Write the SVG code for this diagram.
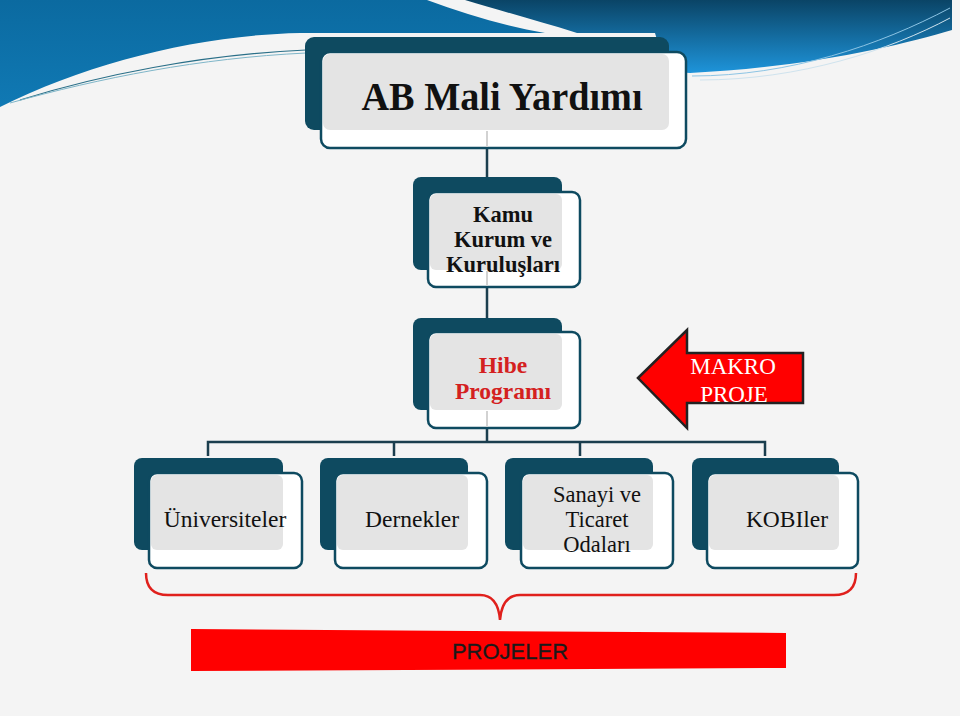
<svg xmlns="http://www.w3.org/2000/svg" width="960" height="716" viewBox="0 0 960 716">
<defs>
<linearGradient id="gl" x1="0" y1="0" x2="0" y2="1">
<stop offset="0" stop-color="#0b6aa0"/><stop offset="1" stop-color="#1079b4"/>
</linearGradient>
<linearGradient id="gr" x1="0" y1="0" x2="0" y2="1">
<stop offset="0" stop-color="#0a4466"/><stop offset="1" stop-color="#1e94da"/>
</linearGradient>
<style>
.back{fill:#0e4a60}
.front{fill:#ffffff;stroke:#0e4a60;stroke-width:2.5}
.gray{fill:#e4e4e4}
.conn{fill:none;stroke:#1b3e4e;stroke-width:2.5}
.faint{fill:none;stroke:#d2d2d2;stroke-width:2}
.tb{font-family:"Liberation Serif",serif;font-weight:bold;text-anchor:middle}
.tr{font-family:"Liberation Serif",serif;text-anchor:middle;fill:#111}
</style>
</defs>
<rect width="960" height="716" fill="#f4f4f4"/>
<!-- banner -->
<path d="M0,0 H427 C465,14 505,26 545,33 L300,33 C200,35 90,62 0,107 Z" fill="url(#gl)"/>
<path d="M465,0 H952 V30 C900,46 800,68 690,73 C672,73 662,58 655,33 L577,33 C535,20 498,10 465,0 Z" fill="url(#gr)"/>
<path d="M20,100 C100,75 200,55 306,50" fill="none" stroke="#2a6f88" stroke-width="1.2"/>
<path d="M10,103 C100,78 200,58 306,53" fill="none" stroke="#7fb6c9" stroke-width="1"/>
<path d="M692,76 C790,76 880,45 950,8" fill="none" stroke="#8cc4e4" stroke-width="1"/>
<path d="M700,80 C800,80 890,50 950,18" fill="none" stroke="#cfe3ee" stroke-width="1"/>
<g id="connectors">
<line class="conn" x1="487" y1="148" x2="487" y2="192"/>
<line class="conn" x1="487" y1="287" x2="487" y2="332"/>
<polyline class="conn" points="487,428 487,442"/>
<polyline class="conn" points="208,456 208,442 765,442 765,456"/>
<line class="conn" x1="394" y1="442" x2="394" y2="456"/>
<line class="conn" x1="580" y1="442" x2="580" y2="456"/>
</g>
<g id="n-ab">
<rect class="back" x="305" y="37" width="364" height="93" rx="9"/>
<rect class="front" x="321" y="52" width="365" height="96" rx="9"/>
<rect class="gray" x="323" y="54" width="346" height="76" rx="7"/>
<line class="faint" x1="487" y1="131" x2="487" y2="147"/>
<text class="tb" x="502" y="110" font-size="40" textLength="281" lengthAdjust="spacingAndGlyphs" fill="#111">AB Mali Yardımı</text>
</g>
<g id="n-kamu">
<rect class="back" x="413" y="177" width="149" height="93" rx="8"/>
<rect class="front" x="428" y="192" width="152" height="95" rx="8"/>
<rect class="gray" x="430" y="194" width="132" height="76" rx="6"/>
<line class="faint" x1="487" y1="271" x2="487" y2="286"/>
<text class="tb" font-size="22.5" fill="#111"><tspan x="503" y="222">Kamu</tspan><tspan x="503" y="247">Kurum ve</tspan><tspan x="503" y="272">Kuruluşları</tspan></text>
</g>
<g id="n-hibe">
<rect class="back" x="413" y="318" width="149" height="92" rx="8"/>
<rect class="front" x="428" y="332" width="152" height="96" rx="8"/>
<rect class="gray" x="430" y="334" width="132" height="76" rx="6"/>
<line class="faint" x1="487" y1="411" x2="487" y2="427"/>
<text class="tb" font-size="23.5" fill="#d42020"><tspan x="503" y="373">Hibe</tspan><tspan x="503" y="399">Programı</tspan></text>
</g>
<g id="n-makro">
<polygon points="638,378 687,330 687,353 803,353 803,403 687,403 687,428" fill="#ff0000" stroke="#222" stroke-width="2.5" stroke-linejoin="miter"/>
<text font-family="'Liberation Serif',serif" font-size="23" fill="#ffffff" text-anchor="middle"><tspan x="733" y="374">MAKRO</tspan><tspan x="734" y="402">PROJE</tspan></text>
</g>
<g id="n-uni">
<rect class="back" x="134" y="458" width="149" height="92" rx="8"/>
<rect class="front" x="149" y="473" width="153" height="95" rx="8"/>
<rect class="gray" x="151" y="475" width="132" height="75" rx="6"/>
<text class="tr" x="225" y="527" font-size="23.5">Üniversiteler</text>
</g>
<g id="n-der">
<rect class="back" x="320" y="458" width="148" height="92" rx="8"/>
<rect class="front" x="335" y="473" width="152" height="95" rx="8"/>
<rect class="gray" x="337" y="475" width="131" height="75" rx="6"/>
<text class="tr" x="412" y="527" font-size="23.5">Dernekler</text>
</g>
<g id="n-san">
<rect class="back" x="505" y="458" width="148" height="92" rx="8"/>
<rect class="front" x="521" y="473" width="152" height="95" rx="8"/>
<rect class="gray" x="523" y="475" width="130" height="75" rx="6"/>
<text class="tr" font-size="22.5"><tspan x="597" y="502">Sanayi ve</tspan><tspan x="597" y="527">Ticaret</tspan><tspan x="597" y="552">Odaları</tspan></text>
</g>
<g id="n-kob">
<rect class="back" x="692" y="458" width="147" height="92" rx="8"/>
<rect class="front" x="707" y="473" width="151" height="95" rx="8"/>
<rect class="gray" x="709" y="475" width="130" height="75" rx="6"/>
<text class="tr" x="787" y="527" font-size="23.5">KOBIler</text>
</g>
<g id="brace">
<path d="M146,573 Q146,595 168,595 L480,595 Q498,595 500,620 Q502,595 520,595 L834,595 Q856,595 856,573" fill="none" stroke="#e0201c" stroke-width="2.5"/>
</g>
<g id="n-projeler">
<polygon points="191,629 786,633 786,668 191,671" fill="#ff0000"/>
<text x="510" y="659" font-family="'Liberation Sans',Arial,sans-serif" font-size="22" fill="#1a1a1a" stroke="#1a1a1a" stroke-width="0.3" text-anchor="middle">PROJELER</text>
</g>
</svg>
